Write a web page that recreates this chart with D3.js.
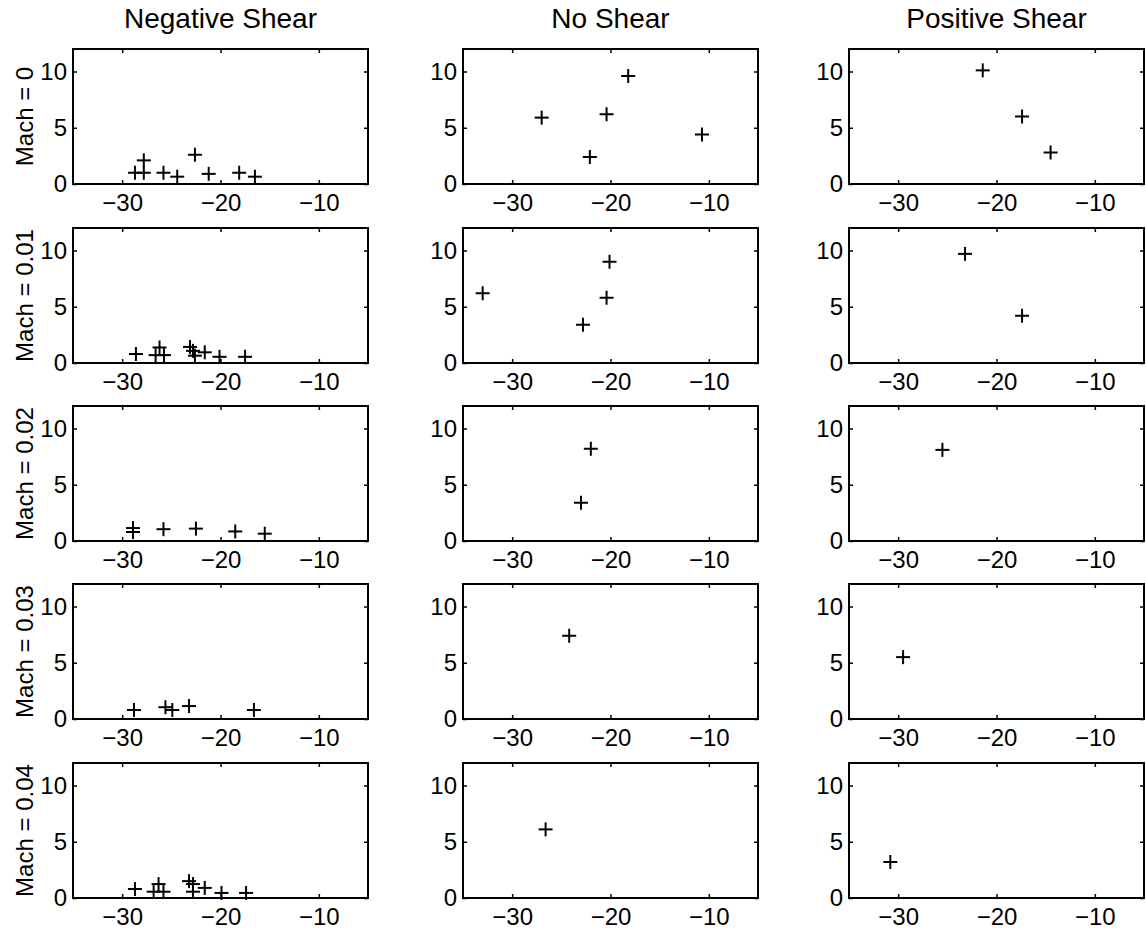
<!DOCTYPE html>
<html>
<head>
<meta charset="utf-8">
<script src="https://cdn.jsdelivr.net/npm/d3@7"></script>
<style>
  body { margin: 0; background: #fff; }
  svg { display: block; font-family: "Liberation Sans", Arial, Helvetica, sans-serif; }
</style>
</head>
<body>
<svg id="chart"></svg>
<script>
// column / row titles
const shearTitles = ["Negative Shear", "No Shear", "Positive Shear"]
const machLabels = ["Mach = 0", "Mach = 0.01", "Mach = 0.02", "Mach = 0.03", "Mach = 0.04"]
const xTicks = [-30, -20, -10]
const yTicks = [0, 5, 10]

// points [x, y], one list per panel
const neg0 = [[-28.7, 1.0], [-27.8, 2.1], [-27.8, 1.0], [-25.8, 1.0], [-24.4, 0.65], [-22.6, 2.6], [-21.2, 0.9], [-18.1, 1.0], [-16.5, 0.65]]
const neg1 = [[-28.6, 0.8], [-26.6, 0.7], [-25.75, 0.7], [-26.2, 1.38], [-23.1, 1.43], [-22.8, 1.08], [-22.6, 0.65], [-21.6, 0.95], [-20.1, 0.55], [-17.5, 0.55]]
const neg2 = [[-28.9, 1.15], [-28.9, 0.8], [-25.8, 1.05], [-22.5, 1.1], [-18.5, 0.85], [-15.5, 0.65]]
const neg3 = [[-28.8, 0.8], [-25.6, 1.05], [-24.9, 0.8], [-23.2, 1.15], [-16.6, 0.8]]
const neg4 = [[-28.7, 0.8], [-26.8, 0.56], [-25.8, 0.56], [-26.3, 1.24], [-23.2, 1.5], [-22.8, 1.24], [-22.8, 0.56], [-21.6, 0.9], [-19.9, 0.45], [-17.4, 0.45]]

const none0 = [[-27.0, 5.9], [-22.1, 2.4], [-20.4, 6.2], [-18.2, 9.6], [-10.7, 4.4]]
const none1 = [[-33.0, 6.2], [-22.8, 3.4], [-20.4, 5.8], [-20.1, 9.0]]
const none2 = [[-22.0, 8.2], [-23.0, 3.4]]
const none3 = [[-24.2, 7.4]]
const none4 = [[-26.6, 6.1]]

const pos0 = [[-21.4, 10.1], [-17.4, 6.0], [-14.5, 2.8]]
const pos1 = [[-23.2, 9.7], [-17.4, 4.2]]
const pos2 = [[-25.5, 8.1]]
const pos3 = [[-29.5, 5.5]]
const pos4 = [[-30.8, 3.2]]

const panels = [
    [neg0, none0, pos0],
    [neg1, none1, pos1],
    [neg2, none2, pos2],
    [neg3, none3, pos3],
    [neg4, none4, pos4]
]

const width = 1146
const height = 939
const svg = d3.select("#chart")
    .attr("width", width)
    .attr("height", height)

// layout of the 5x3 grid
const colLeft = [73, 463, 849]
const rowTop = [49, 228, 406, 584, 763]
const boxW = 295
const boxH = 135
const tickFont = 24
const arm = 7

panels.forEach((row, r) => {
    row.forEach((pts, c) => {
        const g = svg.append("g")
            .attr("transform", `translate(${colLeft[c]},${rowTop[r]})`)

        const x = d3.scaleLinear().domain([-35, -5]).range([0, boxW])
        const y = d3.scaleLinear().domain([0, 12]).range([boxH, 0])

        // inward ticks on all four sides, labels only bottom + left
        g.append("g")
            .attr("transform", `translate(0,${boxH})`)
            .call(d3.axisBottom(x).tickValues(xTicks).tickSize(-4).tickSizeOuter(0).tickPadding(10))
        const left = g.append("g")
            .call(d3.axisLeft(y).tickValues(yTicks).tickSize(-4).tickSizeOuter(0))
        g.append("g")
            .call(d3.axisTop(x).tickValues(xTicks).tickSize(-4).tickSizeOuter(0).tickFormat(""))
        g.append("g")
            .attr("transform", `translate(${boxW},0)`)
            .call(d3.axisRight(y).tickValues(yTicks).tickSize(-4).tickSizeOuter(0).tickFormat(""))

        g.selectAll(".domain").remove()
        g.selectAll(".tick line").attr("stroke", "#000").attr("stroke-width", 1.5)
        g.selectAll(".tick text")
            .attr("fill", "#000")
            .style("font-size", tickFont + "px")
            .style("font-family", "'Liberation Sans', Arial, Helvetica, sans-serif")
        left.selectAll(".tick text").attr("x", -6)

        g.append("rect")
            .attr("width", boxW)
            .attr("height", boxH)
            .attr("fill", "none")
            .attr("stroke", "#000")
            .attr("stroke-width", 2)

        // plus markers
        const marks = g.selectAll(".plus")
            .data(pts)
            .enter()
            .append("g")
            .attr("class", "plus")
            .attr("transform", d => `translate(${x(d[0])},${y(d[1])})`)
        marks.append("line")
            .attr("x1", -arm).attr("x2", arm)
            .attr("stroke", "#000").attr("stroke-width", 2)
        marks.append("line")
            .attr("y1", -arm).attr("y2", arm)
            .attr("stroke", "#000").attr("stroke-width", 2)

        if (r === 0) {
            svg.append("text")
                .attr("x", colLeft[c] + boxW / 2)
                .attr("y", 28)
                .attr("text-anchor", "middle")
                .style("font-size", "28px")
                .text(shearTitles[c])
        }
        if (c === 0) {
            svg.append("text")
                .attr("transform", `translate(33,${rowTop[r] + boxH / 2}) rotate(-90)`)
                .attr("text-anchor", "middle")
                .style("font-size", "24px")
                .text(machLabels[r])
        }
    })
})
</script>
</body>
</html>
